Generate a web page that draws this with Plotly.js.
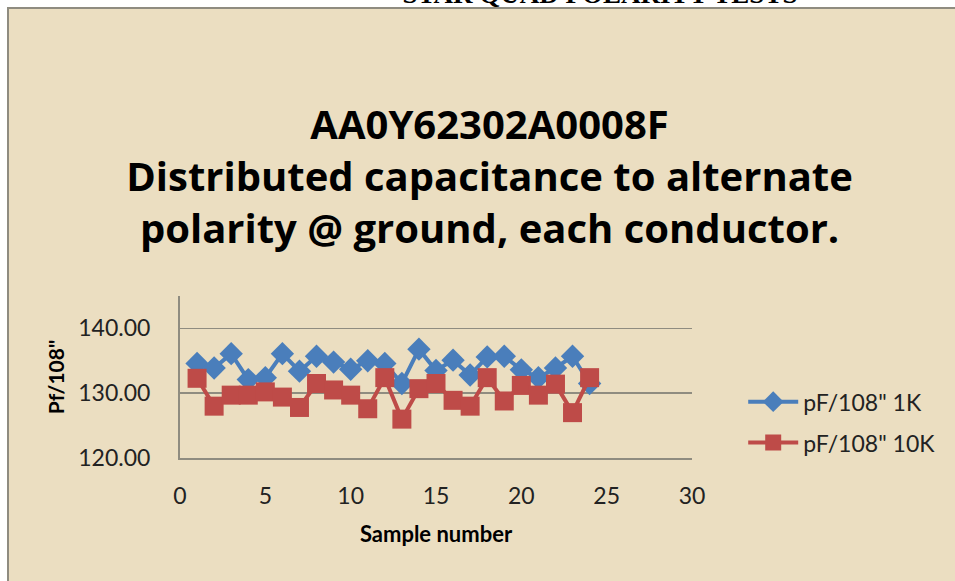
<!DOCTYPE html>
<html>
<head>
<meta charset="utf-8">
<script src="https://cdn.plot.ly/plotly-3.0.1.min.js"></script>
<style>
  html, body { margin: 0; padding: 0; background: #ffffff; width: 955px; height: 581px; overflow: hidden; }
  #cap { position: absolute; left: 320px; width: 560px; top: -21px; text-align: center;
         font-family: "Liberation Serif", "DejaVu Serif", serif; font-weight: bold; font-size: 27px; color: #000; white-space: nowrap; }
  #frame { position: absolute; left: 7px; top: 7px; width: 948px; height: 574px;
           border-left: 2px solid #8f8c80; border-top: 2px solid #8f8c80; background: #ebdec1; }
  #chart { position: absolute; left: 0; top: 0; }
</style>
</head>
<body>
<div id="cap">STAR QUAD POLARITY TESTS</div>
<div id="frame"><div id="chart"></div></div>
<script>
const samples = [1,2,3,4,5,6,7,8,9,10,11,12,13,14,15,16,17,18,19,20,21,22,23,24];
const pf1K  = [134.6,133.9,136.1,132.1,132.4,136.1,133.4,135.7,134.8,133.7,135.0,134.6,131.5,136.8,133.5,135.1,132.8,135.6,135.7,133.6,132.4,133.9,135.7,131.5];
const pf10K = [132.3,128.0,129.7,129.7,130.2,129.4,127.8,131.5,130.5,129.7,127.6,132.4,126.0,130.7,131.5,128.9,128.0,132.4,128.8,131.2,129.7,131.4,127.0,132.4];
const seriesNames = ['pF/108" 1K', 'pF/108" 10K'];
const titleLines = ['AA0Y62302A0008F', 'Distributed capacitance to alternate', 'polarity @ ground, each conductor.'];
const xTitle = 'Sample number';
const yTitle = 'Pf/108"';

const FONT = 'Lato, "Open Sans", sans-serif';
const TFONT = '"Open Sans", Lato, sans-serif';
const traces = [
  { x: samples, y: pf1K, name: seriesNames[0], type: 'scatter', mode: 'lines+markers',
    legendgroup: 'a',
    line: { color: '#4a7ebb', width: 4 },
    marker: { symbol: 'diamond', size: 18, color: '#4a7ebb' } },
  { x: samples, y: pf10K, name: seriesNames[1], type: 'scatter', mode: 'lines+markers',
    legendgroup: 'b',
    line: { color: '#be4b48', width: 4 },
    marker: { symbol: 'square', size: 19, color: '#be4b48' } }
];

const layout = {
  width: 946, height: 572,
  paper_bgcolor: '#ebdec1', plot_bgcolor: '#ebdec1',
  margin: { l: 171, r: 263, t: 287, b: 123 },
  font: { family: FONT, color: '#1a1a1a', size: 22 },
  title: { text: '<b>' + titleLines.join('<br>') + '</b>', font: { family: TFONT, size: 40, color: '#000' },
           x: 0.508, xref: 'container', xanchor: 'center', y: 0.772, yref: 'container', yanchor: 'middle' },
  xaxis: { range: [0, 30], dtick: 5, tick0: 0, showgrid: false, zeroline: false,
           showline: true, linecolor: '#8f8c80', linewidth: 2,
           ticks: '', tickfont: { size: 23, family: FONT, color: '#222' }, ticklabelstandoff: 16,
           title: { text: '<b>' + xTitle + '</b>', font: { size: 22, family: FONT, color: '#000' }, standoff: 19 } },
  yaxis: { range: [120, 145], dtick: 10, tick0: 120, tickformat: '.2f', showgrid: true, gridcolor: '#8f8c80', gridwidth: 1.5,
           zeroline: false, showline: true, linecolor: '#8f8c80', linewidth: 2,
           ticks: '', tickfont: { size: 23, family: FONT, color: '#222' }, ticklabelstandoff: 23,
           title: { text: '<b>' + yTitle + '</b>', font: { size: 21, family: FONT, color: '#000' }, standoff: 8 } },
  legend: { x: 1.1, xanchor: 'left', y: 0.48, yanchor: 'top', bgcolor: 'rgba(0,0,0,0)',
            font: { size: 23, family: FONT, color: '#222' }, tracegroupgap: 8, itemwidth: 50 },
  showlegend: true
};

Plotly.newPlot('chart', traces, layout, { displayModeBar: false, staticPlot: true });
</script>
</body>
</html>
